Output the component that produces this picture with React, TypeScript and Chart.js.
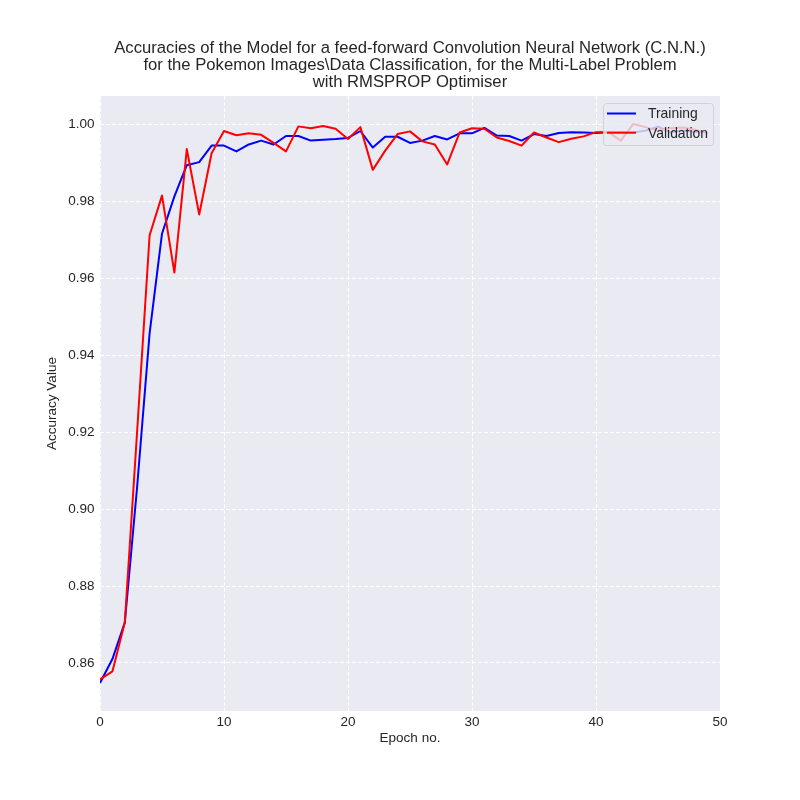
import { useEffect, useRef } from "react";
import Chart from "chart.js/auto";
import type { ChartConfiguration, Plugin } from "chart.js";

const FONT = "'Liberation Sans', Arial, sans-serif";
const TEXT = "#262626";

const titleLines = [
  "Accuracies of the Model for a feed-forward Convolution Neural Network (C.N.N.)",
  "for the Pokemon Images\\Data Classification, for the Multi-Label Problem",
  "with RMSPROP Optimiser",
];

const epochs = [
  0, 1, 2, 3, 4, 5, 6, 7, 8, 9, 10, 11, 12, 13, 14, 15, 16, 17, 18, 19, 20, 21, 22, 23, 24,
  25, 26, 27, 28, 29, 30, 31, 32, 33, 34, 35, 36, 37, 38, 39, 40, 41, 42, 43, 44, 45, 46, 47,
  48, 49,
];

const trainingAccuracy = [
  0.8548, 0.861, 0.8705, 0.906, 0.9457, 0.9716, 0.9813, 0.9894, 0.9902, 0.9945, 0.9945, 0.993,
  0.9948, 0.9958, 0.9948, 0.997, 0.997, 0.9958, 0.996, 0.9962, 0.9965, 0.9983, 0.994, 0.9968,
  0.9968, 0.9952, 0.9958, 0.997, 0.9961, 0.9977, 0.9977, 0.9991, 0.9971, 0.997, 0.9958, 0.9975,
  0.997, 0.9978, 0.998, 0.9979, 0.9978, 0.998, 0.998, 0.9979, 0.9984, 0.9994, 0.998, 0.9984,
  0.9981, 0.998,
];

const validationAccuracy = [
  0.8557, 0.8578, 0.8705, 0.9205, 0.9712, 0.9815, 0.9615, 0.9936, 0.9766, 0.9925, 0.9983, 0.9972,
  0.9977, 0.9973, 0.9952, 0.993, 0.9995, 0.999, 0.9996, 0.9989, 0.9962, 0.9993, 0.9882, 0.9932,
  0.9975, 0.9982, 0.9956, 0.9948, 0.9896, 0.9979, 0.999, 0.9989, 0.9966, 0.9957, 0.9945, 0.9979,
  0.9966, 0.9954, 0.9963, 0.9969, 0.998, 0.998, 0.9958, 1.0001, 0.9993, 0.9984, 0.999, 0.9992,
  0.9986, 0.9977,
];

const xTicks = [0, 10, 20, 30, 40, 50];
const yTicks = [0.86, 0.88, 0.9, 0.92, 0.94, 0.96, 0.98, 1.0];

// axes background, like seaborn darkgrid
const plotBackground: Plugin = {
  id: "plotBackground",
  beforeDraw(chart) {
    const { ctx, chartArea } = chart;
    ctx.save();
    ctx.fillStyle = "#EAEAF2";
    ctx.fillRect(chartArea.left, chartArea.top, chartArea.width, chartArea.height);
    ctx.restore();
  },
};

// title centred over the axes, not over the canvas
const axesTitle: Plugin = {
  id: "axesTitle",
  afterDraw(chart) {
    const { ctx, chartArea } = chart;
    const cx = (chartArea.left + chartArea.right) / 2;
    ctx.save();
    ctx.font = `16.67px ${FONT}`;
    ctx.fillStyle = TEXT;
    ctx.textAlign = "center";
    ctx.textBaseline = "alphabetic";
    titleLines.forEach((line, i) => {
      ctx.fillText(line, cx, chartArea.top - 43.5 + i * 17.4);
    });
    ctx.restore();
  },
};

// legend inside the plot, upper right, half see-through
const insetLegend: Plugin = {
  id: "insetLegend",
  afterDatasetsDraw(chart) {
    const { ctx, chartArea } = chart;
    const boxW = 110;
    const boxH = 42;
    const x = chartArea.right - 7 - boxW;
    const y = chartArea.top + 7.5;
    ctx.save();
    ctx.beginPath();
    ctx.roundRect(x + 0.5, y, boxW, boxH, 3);
    ctx.fillStyle = "rgba(234,234,242,0.8)";
    ctx.fill();
    ctx.strokeStyle = "rgba(204,204,204,0.8)";
    ctx.lineWidth = 1;
    ctx.stroke();
    chart.data.datasets.forEach((ds, i) => {
      const ly = y + 10 + i * 19.2;
      ctx.strokeStyle = ds.borderColor as string;
      ctx.lineWidth = 2;
      ctx.beginPath();
      ctx.moveTo(x + 4, ly);
      ctx.lineTo(x + 33, ly);
      ctx.stroke();
      ctx.fillStyle = TEXT;
      ctx.font = `13.9px ${FONT}`;
      ctx.textAlign = "left";
      ctx.textBaseline = "middle";
      ctx.fillText(ds.label as string, x + 45, ly + 1);
    });
    ctx.restore();
  },
};

const App = () => {
  const canvasRef = useRef<HTMLCanvasElement | null>(null);

  useEffect(() => {
    document.body.style.margin = "0";
    if (!canvasRef.current) return;
    Chart.defaults.font.family = FONT;

    const config: ChartConfiguration<"line"> = {
      type: "line",
      data: {
        datasets: [
          {
            label: "Training",
            data: epochs.map((e, i) => ({ x: e, y: trainingAccuracy[i] })),
            borderColor: "#0000FF",
            borderWidth: 2,
            pointRadius: 0,
            tension: 0,
            fill: false,
            borderJoinStyle: "round",
            order: 1,
          },
          {
            label: "Validation",
            data: epochs.map((e, i) => ({ x: e, y: validationAccuracy[i] })),
            borderColor: "#FF0000",
            borderWidth: 2,
            pointRadius: 0,
            tension: 0,
            fill: false,
            borderJoinStyle: "round",
            order: 0,
          },
        ],
      },
      options: {
        responsive: false,
        animation: false,
        events: [],
        layout: { padding: { top: 96, right: 80, left: 0, bottom: 0 } },
        plugins: {
          legend: { display: false },
          tooltip: { enabled: false },
          title: { display: false },
        },
        scales: {
          x: {
            type: "linear",
            min: 0,
            max: 50,
            afterBuildTicks: (s) => {
              s.ticks = xTicks.map((v) => ({ value: v }));
            },
            afterFit: (s) => {
              s.height = 89;
            },
            grid: { color: "#FFFFFF", lineWidth: 1, drawTicks: false },
            border: { display: false, dash: [4, 2] },
            ticks: {
              color: TEXT,
              font: { size: 13.5 },
              padding: 3,
              maxRotation: 0,
              callback: (v) => String(v),
            },
            title: {
              display: true,
              text: "Epoch no.",
              color: TEXT,
              font: { size: 13.5 },
              padding: { top: 0, bottom: 53.4 },
            },
          },
          y: {
            type: "linear",
            min: 0.8475,
            max: 1.0074,
            afterBuildTicks: (s) => {
              s.ticks = yTicks.map((v) => ({ value: v }));
            },
            afterFit: (s) => {
              s.width = 100;
            },
            grid: { color: "#FFFFFF", lineWidth: 1, drawTicks: false },
            border: { display: false, dash: [4, 2] },
            ticks: {
              color: TEXT,
              font: { size: 13.5 },
              padding: 5.5,
              callback: (v) => Number(v).toFixed(2),
            },
            title: {
              display: true,
              text: "Accuracy Value",
              color: TEXT,
              font: { size: 13.5 },
              padding: { top: 44, bottom: 0 },
            },
          },
        },
      },
      plugins: [plotBackground, axesTitle, insetLegend],
    };

    const chart = new Chart(canvasRef.current, config);
    return () => {
      chart.destroy();
    };
  }, []);

  return (
    <div style={{ width: 800, height: 800 }}>
      <canvas ref={canvasRef} width={800} height={800} />
    </div>
  );
};

export default App;
